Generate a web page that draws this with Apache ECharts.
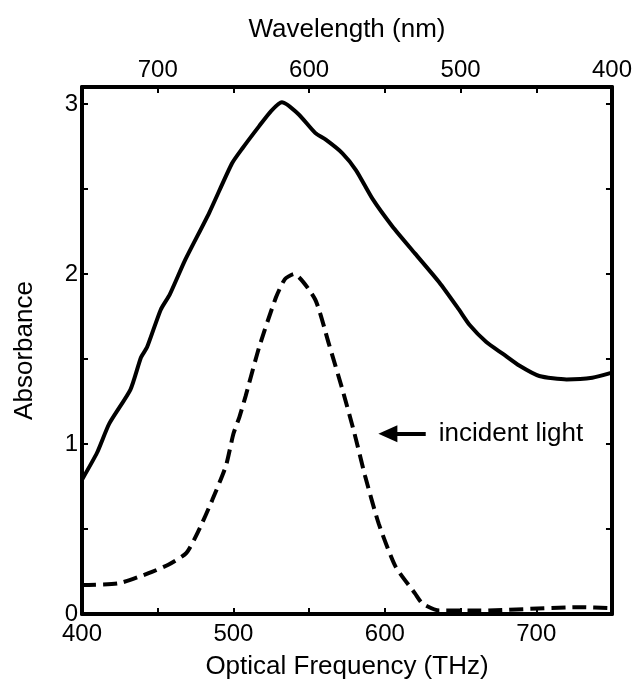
<!DOCTYPE html>
<html>
<head>
<meta charset="utf-8">
<script src="https://cdn.jsdelivr.net/npm/echarts@6/dist/echarts.min.js"></script>
<style>
html,body{margin:0;padding:0;background:#fff;}
#chart{width:635px;height:687px;}
</style>
</head>
<body>
<div id="chart"></div>
<script>
// Tick labels
const freqTicks = [400, 500, 600, 700];
const wavelengthTicks = [700, 600, 500, 400];
const absorbanceTicks = [0, 1, 2, 3];

// Solid curve (absorbance spectrum)
const solidFreq = [400, 410, 418, 432, 439, 443, 452, 458, 468, 484, 499, 506, 517, 525, 532, 543, 554, 561, 572, 581, 592, 605, 620, 636, 649, 656, 667, 678, 689, 702, 720, 737, 750];
const solidAbs  = [0.79, 0.95, 1.12, 1.32, 1.51, 1.57, 1.79, 1.88, 2.08, 2.36, 2.65, 2.74, 2.87, 2.96, 3.01, 2.94, 2.83, 2.79, 2.71, 2.61, 2.44, 2.28, 2.12, 1.95, 1.79, 1.70, 1.60, 1.53, 1.46, 1.40, 1.38, 1.39, 1.42];

// Dashed curve (incident light)
const dashFreq = [400, 424, 444, 457, 469, 477, 486, 495, 500, 504, 508, 517, 528, 534, 540, 554, 563, 572, 580, 587, 596, 607, 620, 625, 636, 662, 728, 750];
const dashAbs  = [0.17, 0.18, 0.24, 0.29, 0.36, 0.49, 0.67, 0.87, 1.06, 1.16, 1.28, 1.57, 1.86, 1.97, 2.00, 1.85, 1.59, 1.32, 1.06, 0.81, 0.53, 0.28, 0.12, 0.06, 0.02, 0.02, 0.04, 0.035];

// Annotation arrow (frequency range, absorbance level)
const arrowFrom = [627, 1.06];
const arrowTo = [602, 1.06];
const arrowText = 'incident light';

const FONT = "'Liberation Sans', Arial, Helvetica, sans-serif";
const pair = (xs, ys) => xs.map((x, i) => [x, ys[i]]);

const chart = echarts.init(document.getElementById('chart'), null, {renderer: 'canvas'});

const axisLine = {show: true, onZero: false, lineStyle: {color: '#000', width: 4}};
const tick = {show: true, inside: true, length: 6, lineStyle: {color: '#000', width: 2}};
const lbl = {color: '#000', fontFamily: FONT, fontSize: 24};
const nameStyle = {color: '#000', fontFamily: FONT, fontSize: 26};

chart.setOption({
  animation: false,
  backgroundColor: '#fff',
  grid: {left: 82, right: 23, top: 87, bottom: 73, containLabel: false},
  xAxis: [
    {
      type: 'value', position: 'bottom', min: 400, max: 750, interval: 50,
      name: 'Optical Frequency (THz)', nameLocation: 'middle', nameGap: 40, nameTextStyle: nameStyle,
      axisLine: axisLine, axisTick: tick, splitLine: {show: false},
      axisLabel: Object.assign({}, lbl, {margin: 8, formatter: v => freqTicks.includes(v) ? String(v) : ''})
    },
    {
      type: 'value', position: 'top', min: 400, max: 750, interval: 50, inverse: true,
      name: 'Wavelength (nm)', nameLocation: 'middle', nameGap: 44, nameTextStyle: nameStyle,
      axisLine: axisLine, axisTick: tick, splitLine: {show: false},
      axisLabel: Object.assign({}, lbl, {margin: 5, formatter: v => wavelengthTicks.includes(v) ? String(v) : ''})
    }
  ],
  yAxis: [
    {
      type: 'value', position: 'left', min: 0, max: 3.1, interval: 0.5,
      name: 'Absorbance', nameLocation: 'middle', nameGap: 44, nameRotate: 90, nameTextStyle: nameStyle,
      axisLine: axisLine, axisTick: tick, splitLine: {show: false},
      axisLabel: Object.assign({}, lbl, {margin: 4, formatter: v => absorbanceTicks.includes(v) ? String(v) : ''})
    },
    {
      type: 'value', position: 'right', min: 0, max: 3.1, interval: 0.5,
      axisLine: axisLine, axisTick: tick, splitLine: {show: false},
      axisLabel: {show: false}
    }
  ],
  series: [
    {
      type: 'line', xAxisIndex: 0, yAxisIndex: 0, data: pair(solidFreq, solidAbs),
      showSymbol: false, smooth: 0.2,
      lineStyle: {color: '#000', width: 4}
    },
    {
      type: 'line', xAxisIndex: 0, yAxisIndex: 0, data: pair(dashFreq, dashAbs),
      showSymbol: false, smooth: 0.2,
      lineStyle: {color: '#000', width: 4, type: [14, 7]},
      markLine: {
        silent: true, symbol: ['none', 'triangle'], symbolSize: [17, 19],
        lineStyle: {color: '#000', width: 4, type: 'solid'},
        label: {show: true, position: 'start', formatter: arrowText, color: '#000', fontFamily: FONT, fontSize: 26, distance: 13},
        data: [[{coord: arrowFrom}, {coord: arrowTo}]]
      }
    }
  ]
});
</script>
</body>
</html>
